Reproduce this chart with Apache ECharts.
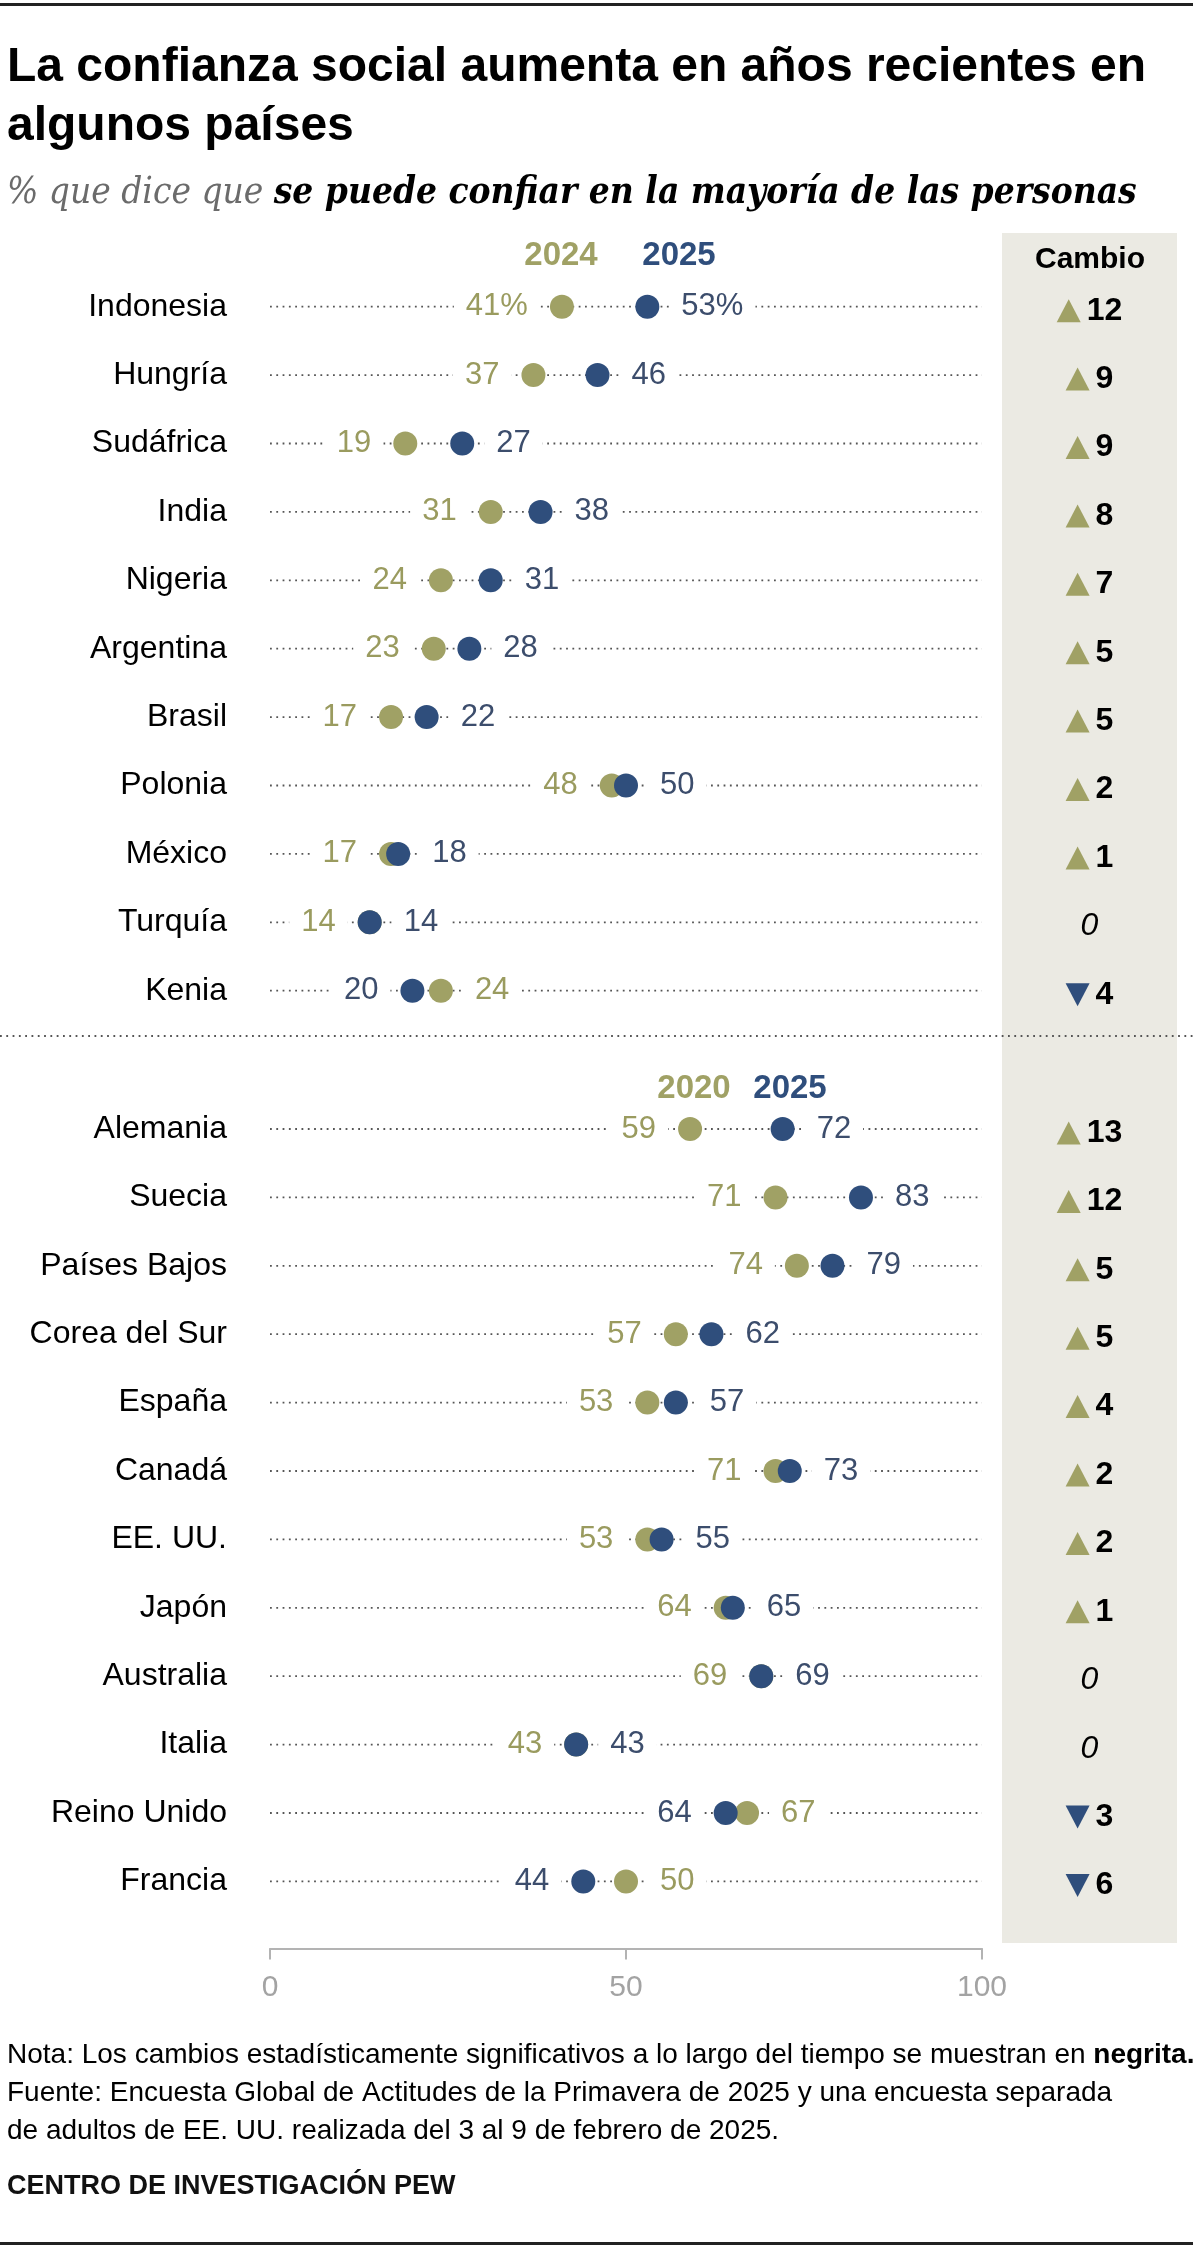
<!DOCTYPE html>
<html>
<head>
<meta charset="utf-8">
<script src="https://cdn.jsdelivr.net/npm/echarts@6/dist/echarts.min.js"></script>
<style>
html,body{margin:0;padding:0;background:#fff;}
#chart{width:1200px;height:2259px;}
</style>
</head>
<body>
<div id="chart"></div>
<script>
// grupo 1: 2024 vs 2025
const countries1 = ['Indonesia','Hungría','Sudáfrica','India','Nigeria','Argentina','Brasil','Polonia','México','Turquía','Kenia'];
const prior1 = [41,37,19,31,24,23,17,48,17,14,24];
const now1 = [53,46,27,38,31,28,22,50,18,14,20];
const change1 = [12,9,9,8,7,5,5,2,1,0,-4];
// grupo 2: 2020 vs 2025
const countries2 = ['Alemania','Suecia','Países Bajos','Corea del Sur','España','Canadá','EE. UU.','Japón','Australia','Italia','Reino Unido','Francia'];
const prior2 = [59,71,74,57,53,71,53,64,69,43,67,50];
const now2 = [72,83,79,62,57,73,55,65,69,43,64,44];
const change2 = [13,12,5,5,4,2,2,1,0,0,-3,-6];
const axisTicks = [0,50,100];

const FONT = '"Liberation Sans", Arial, sans-serif';
const SERIF = '"DejaVu Serif Condensed", "DejaVu Serif", serif';
const OLIVE = '#a0a165';
const OLIVE_TXT = '#9a9b5f';
const NAVY = '#2f4e7c';
const NAVY_TXT = '#3c4d6c';

const measureCtx = document.createElement('canvas').getContext('2d');

function rowLines(g, n){
    let data = [];
    for(let i=0;i<n;i++) data.push([0,i,100]);
    return {
        type:'custom', xAxisIndex:g, yAxisIndex:g, silent:true, z:1,
        encode:{x:[0,2], y:1},
        data:data,
        renderItem:function(params, api){
            const a = api.coord([api.value(0), api.value(1)]);
            const b = api.coord([api.value(2), api.value(1)]);
            return {type:'line', shape:{x1:a[0],y1:a[1],x2:b[0],y2:b[1]},
                style:{stroke:'#555', lineWidth:1.8, lineDash:[1.8,4.5]}};
        }
    };
}

function dotSeries(g, prior, now, pct){
    const lab = {show:true, fontSize:31, fontFamily:FONT, backgroundColor:'#fff',
        padding:[0,12], distance:10, lineHeight:34};
    const fmt = function(p){ return p.value[0] + (pct && p.value[1]===0 ? '%' : ''); };
    const olive = prior.map((v,i)=>({value:[v,i], label:{position: now[i]>=v ? 'left':'right'}}));
    const navy = now.map((v,i)=>({value:[v,i], label:{position: v>=prior[i] ? 'right':'left'}}));
    return [
        {type:'scatter', xAxisIndex:g, yAxisIndex:g, symbolSize:24, z:3, silent:true,
            itemStyle:{color:OLIVE, opacity:1}, data:olive,
            label:Object.assign({}, lab, {color:OLIVE_TXT, formatter:fmt})},
        {type:'scatter', xAxisIndex:g, yAxisIndex:g, symbolSize:24, z:4, silent:true,
            itemStyle:{color:NAVY, opacity:1}, data:navy,
            label:Object.assign({}, lab, {color:NAVY_TXT, formatter:fmt})}
    ];
}

function changeSeries(g, change){
    return {
        type:'custom', xAxisIndex:g, yAxisIndex:g, silent:true, z:5,
        encode:{x:0, y:1},
        data:change.map((c,i)=>[0.5,i,c]),
        renderItem:function(params, api){
            const p = api.coord([api.value(0), api.value(1)]);
            const ch = api.value(2);
            const cx = p[0], cy = p[1] + 4;
            if(ch === 0){
                return {type:'text', style:{text:'0', x:cx, y:cy, align:'center', verticalAlign:'middle',
                    font:'italic 32px ' + FONT, fill:'#000'}};
            }
            const txt = String(Math.abs(ch));
            measureCtx.font = 'bold 32px ' + FONT;
            const w = measureCtx.measureText(txt).width;
            const tw = 24, gap = 6;
            const x0 = cx - (tw + gap + w)/2;
            const pts = ch > 0
                ? [[x0, cy+11.5],[x0+tw, cy+11.5],[x0+tw/2, cy-11.5]]
                : [[x0, cy-11.5],[x0+tw, cy-11.5],[x0+tw/2, cy+11.5]];
            return {type:'group', children:[
                {type:'polygon', shape:{points:pts}, style:{fill: ch>0 ? OLIVE : NAVY}},
                {type:'text', style:{text:txt, x:x0+tw+gap, y:cy, align:'left', verticalAlign:'middle',
                    font:'bold 32px ' + FONT, fill:'#000'}}
            ]};
        }
    };
}

function catAxis(g, data, show){
    return {gridIndex:g, type:'category', data:data, inverse:true, show:show,
        axisLine:{show:false}, axisTick:{show:false}, splitLine:{show:false},
        axisLabel:{interval:0, margin:43, fontSize:32, color:'#000', fontFamily:FONT}};
}

const chart = echarts.init(document.getElementById('chart'), null, {renderer:'canvas'});

const option = {
    animation:false,
    backgroundColor:'#fff',
    title:[
        {text:'La confianza social aumenta en años recientes en\nalgunos países', left:7, top:38, padding:0,
            textStyle:{fontSize:48, fontWeight:'bold', lineHeight:59, color:'#000', fontFamily:FONT}},
        {text:'{a|% que dice que }{b|se puede confiar en la mayoría de las personas}', left:7, top:172, padding:0,
            textStyle:{fontWeight:'normal', rich:{
                a:{fontSize:36.7, fontStyle:'italic', fontWeight:'normal', color:'#6b6b6b', fontFamily:SERIF, lineHeight:42},
                b:{fontSize:36.7, fontStyle:'italic', fontWeight:'bold', color:'#000', fontFamily:SERIF, lineHeight:42}
            }}}
    ],
    grid:[
        {left:270, width:712, top:272.5, height:752.4},
        {left:270, width:712, top:1094.8, height:820.8},
        {left:1002, width:175, top:272.5, height:752.4},
        {left:1002, width:175, top:1094.8, height:820.8}
    ],
    xAxis:[
        {gridIndex:0, type:'value', min:0, max:100, show:false},
        {gridIndex:1, type:'value', min:axisTicks[0], max:axisTicks[2], interval:axisTicks[1]-axisTicks[0],
            position:'bottom', offset:33,
            axisLine:{show:true, lineStyle:{color:'#b3b3b3', width:2}},
            axisTick:{show:true, length:11, lineStyle:{color:'#b3b3b3', width:2}},
            splitLine:{show:false},
            axisLabel:{fontSize:30, color:'#a3a3a3', fontFamily:FONT, margin:24}},
        {gridIndex:2, type:'value', min:0, max:1, show:false},
        {gridIndex:3, type:'value', min:0, max:1, show:false}
    ],
    yAxis:[
        catAxis(0, countries1, true),
        catAxis(1, countries2, true),
        catAxis(2, countries1, false),
        catAxis(3, countries2, false)
    ],
    graphic:[
        {type:'rect', shape:{x:1002, y:233, width:175, height:1710}, style:{fill:'#ebeae3'}, z:-10, silent:true},
        {type:'rect', shape:{x:0, y:3, width:1193, height:3}, style:{fill:'#222'}, silent:true},
        {type:'rect', shape:{x:0, y:2242, width:1193, height:3}, style:{fill:'#222'}, silent:true},
        {type:'line', shape:{x1:0, y1:1036, x2:1195, y2:1036}, style:{stroke:'#555', lineWidth:1.8, lineDash:[1.8,4.5]}, silent:true},
        {type:'text', x:561, y:256, style:{text:'2024', align:'center', verticalAlign:'middle', font:'bold 33px ' + FONT, fill:OLIVE}},
        {type:'text', x:679, y:256, style:{text:'2025', align:'center', verticalAlign:'middle', font:'bold 33px ' + FONT, fill:NAVY}},
        {type:'text', x:1090, y:260, style:{text:'Cambio', align:'center', verticalAlign:'middle', font:'bold 30px ' + FONT, fill:'#000'}},
        {type:'text', x:694, y:1089, style:{text:'2020', align:'center', verticalAlign:'middle', font:'bold 33px ' + FONT, fill:OLIVE}},
        {type:'text', x:790, y:1089, style:{text:'2025', align:'center', verticalAlign:'middle', font:'bold 33px ' + FONT, fill:NAVY}},
        {type:'text', x:7, y:2036, style:{
            text:'{n|Nota: Los cambios estadísticamente significativos a lo largo del tiempo se muestran en }{b|negrita.}\n' +
                 '{n|Fuente: Encuesta Global de Actitudes de la Primavera de 2025 y una encuesta separada}\n' +
                 '{n|de adultos de EE. UU. realizada del 3 al 9 de febrero de 2025.}',
            rich:{
                n:{fontSize:28, fontFamily:FONT, color:'#111', lineHeight:38},
                b:{fontSize:28, fontFamily:FONT, fontWeight:'bold', color:'#000', lineHeight:38}
            }}},
        {type:'text', x:7, y:2187, style:{text:'CENTRO DE INVESTIGACIÓN PEW', verticalAlign:'middle', font:'bold 27px ' + FONT, fill:'#111'}}
    ],
    series:[
        rowLines(0, countries1.length),
        rowLines(1, countries2.length)
    ].concat(dotSeries(0, prior1, now1, true))
     .concat(dotSeries(1, prior2, now2, false))
     .concat([changeSeries(2, change1), changeSeries(3, change2)])
};

chart.setOption(option);
</script>
</body>
</html>
